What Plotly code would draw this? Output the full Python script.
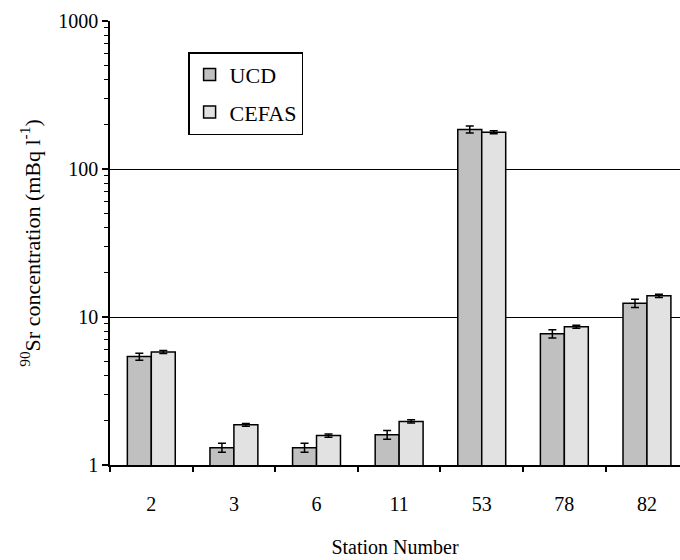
import plotly.graph_objects as go

stations = ["2", "3", "6", "11", "53", "78", "82"]
ucd = [5.4, 1.31, 1.31, 1.6, 185, 7.7, 12.4]
ucd_err = [0.3, 0.09, 0.09, 0.11, 10, 0.5, 0.8]
cefas = [5.8, 1.87, 1.58, 1.97, 177, 8.6, 13.9]
cefas_err = [0.13, 0.04, 0.04, 0.05, 4, 0.2, 0.33]

FONT = "Liberation Serif"

fig = go.Figure()
fig.add_trace(go.Bar(
    x=stations, y=ucd, name="UCD", legendgroup="a",
    marker=dict(color="#c0c0c0", line=dict(color="black", width=1.5)),
    error_y=dict(type="data", array=ucd_err, color="black", thickness=1.5, width=4),
))
fig.add_trace(go.Bar(
    x=stations, y=cefas, name="CEFAS", legendgroup="b",
    marker=dict(color="#e2e2e2", line=dict(color="black", width=1.5)),
    error_y=dict(type="data", array=cefas_err, color="black", thickness=1.5, width=4),
))

fig.update_layout(
    width=680, height=560,
    margin=dict(l=110, r=0, t=21, b=95),
    paper_bgcolor="white", plot_bgcolor="white",
    barmode="group", bargap=0.42, bargroupgap=0,
    font=dict(family=FONT, size=20, color="black"),
    legend=dict(
        x=0.137, y=0.93, xanchor="left", yanchor="top",
        bordercolor="black", borderwidth=1.5, bgcolor="white",
        font=dict(size=22, family=FONT), tracegroupgap=6,
    ),
    showlegend=True,
)
fig.update_xaxes(
    type="category", range=[-0.5, 6.4],
    showline=True, linecolor="black", linewidth=1.5,
    ticks="outside", tickson="boundaries", ticklen=5, tickcolor="black", tickwidth=1.5,
    showgrid=False, ticklabelstandoff=20,
    tickfont=dict(size=20, family=FONT),
    title=dict(text="Station Number", font=dict(size=20, family=FONT), standoff=26),
)
fig.update_yaxes(
    type="log", range=[0, 3],
    tickvals=[1, 10, 100, 1000], ticktext=["1", "10", "100", "1000"],
    showline=True, linecolor="black", linewidth=1.5,
    ticks="outside", ticklen=6, tickcolor="black", tickwidth=1.5,
    minor=dict(ticks="outside", ticklen=4, tickcolor="black", tickwidth=1, dtick="D1", showgrid=False),
    showgrid=True, gridcolor="black", gridwidth=1.2,
    zeroline=False,
    tickfont=dict(size=20, family=FONT),
    title=dict(text="<sup>90</sup>Sr concentration (mBq l<sup>-1</sup>)", font=dict(size=22, family=FONT), standoff=12),
)

fig.write_html("out.html")
